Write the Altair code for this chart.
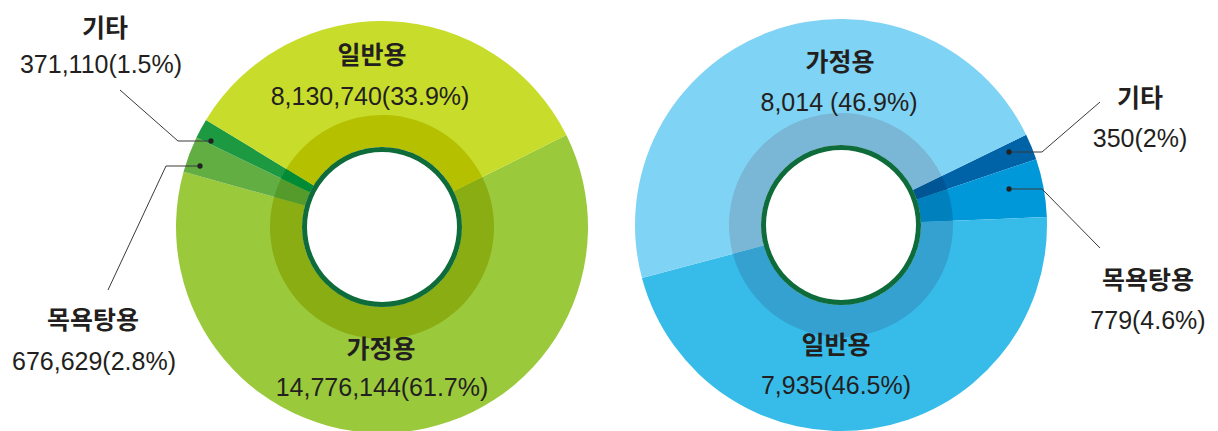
import math
import altair as alt
import pandas as pd

# ---------------- data ----------------
left_categories = ["가정용", "목욕탕용", "기타", "일반용"]
left_values = [14776144, 676629, 371110, 8130740]
left_labels = ["14,776,144(61.7%)", "676,629(2.8%)", "371,110(1.5%)", "8,130,740(33.9%)"]

right_categories = ["기타", "목욕탕용", "일반용", "가정용"]
right_values = [350, 779, 7935, 8014]
right_labels = ["350(2%)", "779(4.6%)", "7,935(46.5%)", "8,014 (46.9%)"]

# ---------------- styles / layout ----------------
OFF = 8  # page margin
W, H = 1202, 423
R_OUT, R_BAND, R_RING_O, R_RING_I = 206, 112, 80, 75
LEFT_C = (382, 227)
RIGHT_C = (841, 225)
LEFT_START = math.radians(63.5)
RIGHT_START = math.radians(64.0)

left_outer = ["#9bc93c", "#62ae42", "#1d9a41", "#c8dc2b"]
left_inner = ["#89ad12", "#559b2b", "#008b34", "#b4c000"]
right_outer = ["#0063a8", "#0098d9", "#37bcea", "#7fd3f5"]
right_inner = ["#005595", "#0080bd", "#35a1d0", "#7ab6d5"]
RING_COLOR = "#0e6b3a"
TEXT_COLOR = "#231f20"
KFONT = "Noto Sans CJK KR"
NFONT = "Liberation Sans"


def px(x, y):
    return x - OFF, y - OFF


def donut(cats, vals, center, start, outer_cols, inner_cols):
    df = pd.DataFrame({"cat": cats, "value": vals, "idx": list(range(len(cats)))})
    cx, cy = px(*center)
    theta = alt.Theta("value:Q", stack=True,
                      scale=alt.Scale(range=[start, start + 2 * math.pi]))
    layers = []
    for r_in, r_out, cols in [(R_RING_O, R_OUT, outer_cols), (R_RING_O, R_BAND, inner_cols)]:
        layers.append(
            alt.Chart(df).mark_arc(innerRadius=r_in, outerRadius=r_out).encode(
                theta=theta,
                order=alt.Order("idx:Q"),
                color=alt.Color("cat:N", scale=alt.Scale(domain=cats, range=cols), legend=None),
                x=alt.value(cx), y=alt.value(cy),
            )
        )
    ring = alt.Chart(pd.DataFrame({"a": [0]})).mark_arc(
        innerRadius=R_RING_I, outerRadius=R_RING_O, theta=0, theta2=2 * math.pi,
        color=RING_COLOR,
    ).encode(x=alt.value(cx), y=alt.value(cy))
    return layers + [ring]


def text(t, x, y, bold):
    xx, yy = px(x, y)
    return alt.Chart(pd.DataFrame({"a": [0]})).mark_text(
        text=t, align="center", baseline="middle",
        font=KFONT if bold else NFONT,
        fontSize=25 if bold else 25,
        fontWeight="bold" if bold else "normal",
        color=TEXT_COLOR,
    ).encode(x=alt.value(xx), y=alt.value(yy))


def seg(x1, y1, x2, y2):
    a, b = px(x1, y1)
    c, d = px(x2, y2)
    return alt.Chart(pd.DataFrame({"a": [0]})).mark_rule(
        color="#3a3a3a", strokeWidth=1
    ).encode(x=alt.value(a), y=alt.value(b), x2=alt.value(c), y2=alt.value(d))


def dot(x, y):
    a, b = px(x, y)
    return alt.Chart(pd.DataFrame({"a": [0]})).mark_circle(
        color="#222222", size=28, opacity=1
    ).encode(x=alt.value(a), y=alt.value(b))


layers = []
layers += donut(left_categories, left_values, LEFT_C, LEFT_START, left_outer, left_inner)
layers += donut(right_categories, right_values, RIGHT_C, RIGHT_START, right_outer, right_inner)

# left labels
layers += [
    text(left_categories[3], 372, 56, True), text(left_labels[3], 370, 97, False),
    text(left_categories[0], 381, 350, True), text(left_labels[0], 382, 388, False),
    text(left_categories[2], 105, 29, True), text(left_labels[2], 101, 65, False),
    text(left_categories[1], 93, 321, True), text(left_labels[1], 94, 362, False),
]
# right labels
layers += [
    text(right_categories[3], 840, 63, True), text(right_labels[3], 839, 103, False),
    text(right_categories[2], 836, 346, True), text(right_labels[2], 836, 386, False),
    text(right_categories[0], 1140, 99, True), text(right_labels[0], 1140, 139, False),
    text(right_categories[1], 1148, 281, True), text(right_labels[1], 1148, 321, False),
]
# leader lines
layers += [
    seg(120, 90, 178, 141), seg(178, 141, 211, 141), dot(211, 141),
    seg(108, 290, 166, 166), seg(166, 166, 200, 166), dot(200, 166),
    seg(1100, 102, 1042, 152), seg(1042, 152, 1009, 152), dot(1009, 152),
    seg(1100, 248, 1042, 189), seg(1042, 189, 1009, 189), dot(1009, 189),
]

chart = alt.layer(*layers).resolve_scale(
    color="independent", theta="independent"
).properties(
    width=W, height=H, padding=0, autosize=alt.AutoSizeParams(type="none"),
).configure_view(stroke=None)

chart.save("out.html", embed_options={"renderer": "svg", "actions": False})
